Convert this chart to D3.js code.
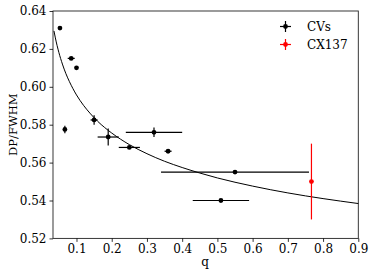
<!DOCTYPE html>
<html>
<head>
<meta charset="utf-8">
<script src="https://cdn.jsdelivr.net/npm/d3@7"></script>
<style>
  body { margin: 0; background: #fff; }
  text { font-family: "DejaVu Serif", serif; fill: #000; }
</style>
</head>
<body>
<div id="chart"></div>
<script>
'use strict';

// CV points: q, DP/FWHM and their errors
let cvQ    = [0.053, 0.085, 0.100, 0.067, 0.150, 0.190, 0.250, 0.320, 0.360, 0.550, 0.510];
let cvY    = [0.631, 0.615, 0.610, 0.5775, 0.5825, 0.5735, 0.568, 0.576, 0.566, 0.555, 0.540];
let cvQErr = [0, 0.010, 0, 0, 0.010, 0.030, 0.030, 0.080, 0.010, 0.210, 0.080];
let cvYErr = [0, 0, 0, 0.002, 0.0025, 0.0045, 0, 0.0025, 0, 0, 0];

// CX137
let cxQ = [0.767];
let cxY = [0.550];
let cxYErr = [0.020];

// model curve
let curveQ = [0.036, 0.04, 0.05, 0.06, 0.07, 0.08, 0.09, 0.10, 0.12, 0.14, 0.16, 0.18, 0.20, 0.25, 0.30, 0.35, 0.40, 0.45, 0.50, 0.60, 0.70, 0.80, 0.90];
let curveY = [0.6295, 0.6258, 0.6181, 0.6120, 0.6069, 0.6027, 0.5990, 0.5957, 0.5902, 0.5857, 0.5818, 0.5785, 0.5756, 0.5695, 0.5647, 0.5607, 0.5574, 0.5545, 0.5519, 0.5476, 0.5440, 0.5410, 0.5384];

let xTicks = [0.1, 0.2, 0.3, 0.4, 0.5, 0.6, 0.7, 0.8, 0.9];
let yTicks = [0.52, 0.54, 0.56, 0.58, 0.60, 0.62, 0.64];

let width = 374, height = 277;
let svg = d3.select('#chart').append('svg')
	.attr('width', width)
	.attr('height', height);

let x = d3.scaleLinear().domain([0.0333, 0.9]).range([53, 358.3]);
let y = d3.scaleLinear().domain([0.52, 0.64]).range([238.4, 11]);

let cvs = cvQ.map((q, i) => ({q: q, v: cvY[i], qe: cvQErr[i], ve: cvYErr[i]}));
let cx = cxQ.map((q, i) => ({q: q, v: cxY[i], qe: 0, ve: cxYErr[i]}));
let curve = curveQ.map((q, i) => ({q: q, v: curveY[i]}));

// frame
svg.append('rect')
	.attr('x', x.range()[0])
	.attr('y', y.range()[1])
	.attr('width', x.range()[1] - x.range()[0])
	.attr('height', y.range()[0] - y.range()[1])
	.style('fill', 'none')
	.style('stroke', '#222')
	.style('stroke-width', 0.9);

// axes
let xAxis = svg.append('g')
	.attr('transform', 'translate(0,' + y.range()[0] + ')')
	.call(d3.axisBottom(x).tickValues(xTicks).tickFormat(d3.format('.1f')).tickSize(3.5).tickPadding(3));
let yAxis = svg.append('g')
	.attr('transform', 'translate(' + x.range()[0] + ',0)')
	.call(d3.axisLeft(y).tickValues(yTicks).tickFormat(d3.format('.2f')).tickSize(3.5).tickPadding(3));
[xAxis, yAxis].forEach(a => {
	a.select('.domain').remove();
	a.selectAll('text').style('font-size', '12px').style('font-family', '"DejaVu Serif", serif');
	a.selectAll('line').style('stroke', '#000').style('stroke-width', 0.8);
});

svg.append('text')
	.attr('x', 205)
	.attr('y', 266)
	.attr('text-anchor', 'middle')
	.style('font-size', '12px')
	.text('q');
svg.append('text')
	.attr('transform', 'translate(17,' + (y.range()[0] + y.range()[1]) / 2 + ') rotate(-90)')
	.attr('text-anchor', 'middle')
	.style('font-size', '11.5px')
	.text('DP/FWHM');

// curve
let line = d3.line().x(d => x(d.q)).y(d => y(d.v)).curve(d3.curveMonotoneX);
svg.append('path')
	.datum(curve)
	.attr('d', line)
	.style('fill', 'none')
	.style('stroke', '#000')
	.style('stroke-width', 1);

function drawPoints(data, color, cls) {
	let g = svg.append('g').classed(cls, true);
	g.selectAll('line.xerr')
		.data(data.filter(d => d.qe > 0))
		.join('line')
		.classed('xerr', true)
		.attr('x1', d => x(d.q - d.qe))
		.attr('x2', d => x(d.q + d.qe))
		.attr('y1', d => y(d.v))
		.attr('y2', d => y(d.v))
		.style('stroke', color)
		.style('stroke-width', 1.2);
	g.selectAll('line.yerr')
		.data(data.filter(d => d.ve > 0))
		.join('line')
		.classed('yerr', true)
		.attr('x1', d => x(d.q))
		.attr('x2', d => x(d.q))
		.attr('y1', d => y(d.v - d.ve))
		.attr('y2', d => y(d.v + d.ve))
		.style('stroke', color)
		.style('stroke-width', 1.2);
	g.selectAll('circle')
		.data(data)
		.join('circle')
		.attr('cx', d => x(d.q))
		.attr('cy', d => y(d.v))
		.attr('r', 2.4)
		.style('fill', color);
}
drawPoints(cvs, '#000', 'cvs');
drawPoints(cx, '#ff0000', 'cx');

// legend
let legend = [{name: 'CVs', color: '#000'}, {name: 'CX137', color: '#ff0000'}];
let lg = svg.selectAll('g.legend')
	.data(legend)
	.join('g')
	.classed('legend', true)
	.attr('transform', (d, i) => 'translate(285.5,' + (26.5 + i * 18) + ')');
lg.append('line').attr('x1', -5.5).attr('x2', 5.5).style('stroke', d => d.color).style('stroke-width', 1.2);
lg.append('line').attr('y1', -5.5).attr('y2', 5.5).style('stroke', d => d.color).style('stroke-width', 1.2);
lg.append('circle').attr('r', 2.4).style('fill', d => d.color);
lg.append('text')
	.attr('x', 21.5)
	.attr('dy', '0.35em')
	.style('font-size', '12px')
	.text(d => d.name);
</script>
</body>
</html>
